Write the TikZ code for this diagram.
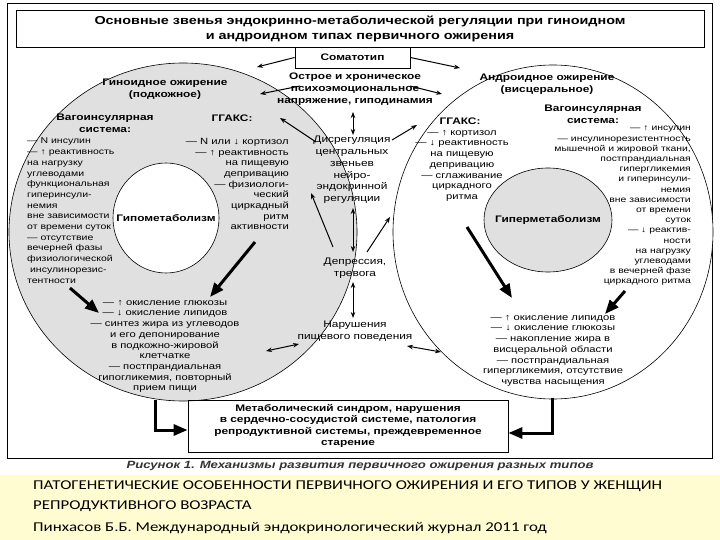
\documentclass[tikz,border=0pt]{standalone}
\usepackage{fontspec}
\setmainfont{Liberation Sans}[FakeStretch=1.25]
\newfontfamily\capfont{Carlito}[FakeStretch=1.25]
\usetikzlibrary{arrows.meta}
\definecolor{band}{HTML}{FFFCD2}
\begin{document}
\begin{tikzpicture}[x=1pt,y=-1pt,
  txt/.style={inner sep=0pt,font=\fontsize{9}{10.7}\selectfont},
  btxt/.style={inner sep=0pt,font=\bfseries\fontsize{9.5}{12}\selectfont},
  thin arr/.style={-{Stealth[length=6pt,width=4.5pt]},line width=1pt},
  dbl arr/.style={{Stealth[length=6pt,width=4.5pt]}-{Stealth[length=6pt,width=4.5pt]},line width=1pt},
  thick arr/.style={-{Triangle[length=14pt,width=11pt]},line width=3pt}]
\useasboundingbox (0,0) rectangle (720,540);
\fill[white] (0,0) rectangle (720,540);
\draw[line width=0.6pt] (7,3) rectangle (712,458);
\fill[band] (0,475) rectangle (720,540);
% title
\node[draw,line width=0.8pt,minimum width=688pt,minimum height=37pt,inner sep=0pt] (title) at (360,29) {};
\node[btxt,font=\bfseries\fontsize{11.5}{15.5}\selectfont,align=center] (titletxt) at (360,29) {Основные звенья эндокринно-метаболической регуляции при гиноидном\\и андроидном типах первичного ожирения};
% ellipses
\draw[fill=black!12,line width=0.6pt] (183,232) ellipse [x radius=174, y radius=169];
\draw[fill=white,line width=0.6pt] (166,218) ellipse [x radius=53, y radius=55];
\draw[fill=white,line width=0.6pt] (553,232) ellipse [x radius=160, y radius=167];
\draw[fill=black!12,line width=0.6pt] (548,220) ellipse [x radius=64, y radius=52];
\node[draw,line width=0.8pt,minimum width=115pt,minimum height=21pt,inner sep=0pt] (soma) at (352.5,57.5) {};
\node[btxt] (somat) at (352.5,57.5) {Соматотип};
% left ellipse texts
\node[btxt,align=center] (gyn) at (165,89) {Гиноидное ожирение\\(подкожное)};
\node[btxt,align=center] (vagl) at (105,123) {Вагоинсулярная\\система:};
\node[btxt] (ggl) at (232,118) {ГГАКС:};
\node[txt,font=\fontsize{8.4}{10.7}\selectfont,align=left,anchor=north west] (listl) at (27,138) {— N инсулин\\— ↑ реактивность\\на нагрузку\\углеводами\\функциональная\\гиперинсули-\\немия\\вне зависимости\\от времени суток\\— отсутствие\\вечерней фазы\\физиологической\\\ инсулинорезис-\\тентности};
\node[txt,align=right,anchor=north east] (listl2) at (289,138) {— N или ↓ кортизол\\— ↑ реактивность\\на пищевую\\депривацию\\— физиологи-\\ческий\\циркадный\\ритм\\активности};
\node[btxt] (hypo) at (166,218) {Гипометаболизм};
\node[txt,align=center,anchor=north] (botl) at (165,300) {— ↑ окисление глюкозы\\— ↓ окисление липидов\\— синтез жира из углеводов\\и его депонирование\\в подкожно-жировой\\клетчатке\\— постпрандиальная\\гипогликемия, повторный\\прием пищи};
% right ellipse texts
\node[btxt,align=center] (andr) at (547,84) {Андроидное ожирение\\(висцеральное)};
\node[btxt,align=center] (vagr) at (593,114) {Вагоинсулярная\\система:};
\node[btxt] (ggr) at (460,121) {ГГАКС:};
\node[txt,align=center,anchor=north] (listr) at (462,130) {— ↑ кортизол\\— ↓ реактивность\\на пищевую\\депривацию\\— сглаживание\\циркадного\\ритма};
\node[txt,font=\fontsize{8.3}{10.2}\selectfont,align=right,anchor=north east] (listr2) at (691,126) {— ↑ инсулин\\— инсулинорезистентность\\мышечной и жировой ткани,\\постпрандиальная\\гипергликемия\\и гиперинсули-\\немия\\вне зависимости\\от времени\\суток\\— ↓ реактив-\\ности\\на нагрузку\\углеводами\\в вечерней фазе\\циркадного ритма};
\node[btxt] (hyper) at (548,220) {Гиперметаболизм};
\node[txt,align=center,anchor=north] (botr) at (553,315) {— ↑ окисление липидов\\— ↓ окисление глюкозы\\— накопление жира в\\висцеральной области\\— постпрандиальная\\гипергликемия, отсутствие\\чувства насыщения};
% center column
\node[btxt,align=center] (stress) at (355,89) {Острое и хроническое\\психоэмоциональное\\напряжение, гиподинамия};
\node[txt,align=center,font=\fontsize{9.5}{11.8}\selectfont] (dysr) at (352,170) {Дисрегуляция\\центральных\\звеньев\\нейро-\\эндокринной\\регуляции};
\node[txt,align=center,font=\fontsize{9.5}{11.8}\selectfont] (depr) at (355,268) {Депрессия,\\тревога};
\node[txt,align=center,font=\fontsize{9.5}{11.8}\selectfont] (eat) at (355,331) {Нарушения\\пищевого поведения};
\coordinate (s1) at (257,67); \coordinate (s2) at (460,68);
\coordinate (t1) at (260,94); \coordinate (t2) at (442,94);
\coordinate (d1) at (280,118); \coordinate (d2) at (417,125);
\coordinate (p1) at (311,193); \coordinate (p2) at (390,217);
\coordinate (e1) at (266,351); \coordinate (e2) at (441,352);
\draw[thin arr] (soma.west) -- (s1);
\draw[thin arr] (soma.east) -- (s2);
\draw[thin arr] (300,86) -- (t1);
\draw[thin arr] (410,86) -- (t2);
\draw[thin arr] (316,142) -- (d1);
\draw[thin arr] (392,140) -- (d2);
\draw[thin arr] (333,247) -- (p1);
\draw[thin arr] (367,252) -- (p2);
\draw[dbl arr] (353,112) -- (353,135);
\draw[dbl arr] (353,208) -- (353,252);
\draw[dbl arr] (353,282) -- (353,318);
\draw[dbl arr] (e1) -- (299,344);
\draw[dbl arr] (407,346) -- (e2);
% thick arrows
\draw[thick arr] (70,288) -- (99,313);
\draw[thick arr] (255,242) -- (210,297);
\draw[thick arr] (467,227) -- (512,298);
\draw[thick arr] (625,291) -- (605,314);
% bottom box
\node[draw,line width=0.8pt,minimum width=320pt,minimum height=52pt,inner sep=0pt] (meta) at (348,426) {};
\node[btxt,align=center,font=\bfseries\fontsize{9.5}{11.5}\selectfont] (metat) at (348,426) {Метаболический синдром, нарушения\\в сердечно-сосудистой системе, патология\\репродуктивной системы, преждевременное\\старение};
\draw[thick arr] (155,400) |- (meta.west |- 0,430);
\draw[thick arr] (552,398) |- (meta.east |- 0,433);
% captions
\node[inner sep=0pt,font=\bfseries\itshape\fontsize{10.5}{12}\selectfont,text=black!80] (fig) at (360,466) {Рисунок 1. Механизмы развития первичного ожирения разных типов};
\node[inner sep=0pt,anchor=west,align=left,font=\capfont\fontsize{13.5}{19.5}\selectfont] (ref1) at (33,496) {ПАТОГЕНЕТИЧЕСКИЕ ОСОБЕННОСТИ ПЕРВИЧНОГО ОЖИРЕНИЯ И ЕГО ТИПОВ У ЖЕНЩИН\\РЕПРОДУКТИВНОГО ВОЗРАСТА};
\node[inner sep=0pt,anchor=west,font=\capfont\fontsize{13.5}{16}\selectfont] (ref2) at (33,528) {Пинхасов Б.Б. Международный эндокринологический журнал 2011 год};
\end{tikzpicture}
\end{document}
